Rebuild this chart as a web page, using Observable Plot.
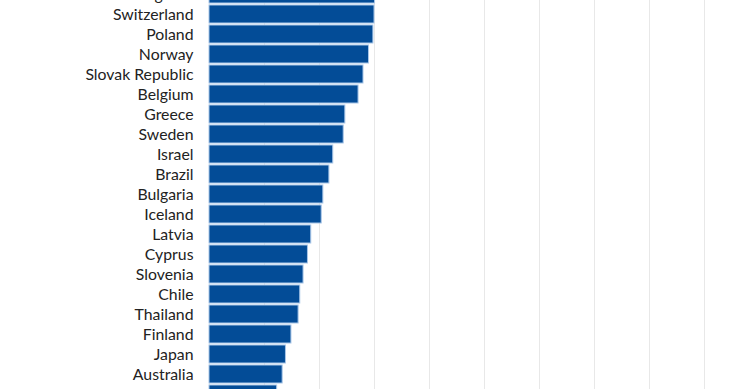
<!DOCTYPE html>
<html>
<head>
<meta charset="utf-8">
<script src="https://cdn.jsdelivr.net/npm/d3@7"></script>
<script src="https://cdn.jsdelivr.net/npm/@observablehq/plot@0.6"></script>
<style>
  html, body { margin: 0; padding: 0; background: #fff; }
  #chart { width: 740px; height: 389px; overflow: hidden; }
  #chart svg { overflow: hidden; }
</style>
</head>
<body>
<div id="chart"></div>
<script>
const countries = [
  "United Kingdom", "Switzerland", "Poland", "Norway", "Slovak Republic",
  "Belgium", "Greece", "Sweden", "Israel", "Brazil", "Bulgaria", "Iceland",
  "Latvia", "Cyprus", "Slovenia", "Chile", "Thailand", "Finland", "Japan",
  "Australia", "New Zealand"
];
const values = [
  3.01, 3.00, 2.98, 2.90, 2.80,
  2.71, 2.47, 2.44, 2.25, 2.18, 2.07, 2.04,
  1.85, 1.79, 1.71, 1.65, 1.62, 1.49, 1.39,
  1.33, 1.23
];
const gridTicks = [0, 1, 2, 3, 4, 5, 6, 7, 8, 9];
// the last row's label lies below the visible frame in the reference
const labelledCountries = countries.slice(0, -1);

const data = countries.map((c, i) => ({country: c, value: values[i]}));

const chart = Plot.plot({
  width: 740,
  height: 389,
  marginTop: 0,
  marginBottom: 0,
  marginLeft: 209,
  marginRight: 0,
  style: {fontFamily: "Lato, 'Noto Sans', sans-serif", color: "#222", background: "#fff"},
  x: {domain: [0, 10], range: [209, 759], axis: null},
  y: {domain: countries, range: [-16.5, 403.5], paddingInner: 0.1, paddingOuter: 0.05, axis: null},
  marks: [
    Plot.ruleX(gridTicks, {x: d => d, stroke: "#e8e8e8", strokeWidth: 1}),
    Plot.barX(data, {y: "country", x: "value", fill: "#034c97", stroke: "#a8c6e8", strokeWidth: 1}),
    Plot.axisY(labelledCountries, {tickSize: 0, tickPadding: 16, fontSize: 15.8, fill: "#222", label: null})
  ]
});
document.getElementById("chart").appendChild(chart);
</script>
</body>
</html>
